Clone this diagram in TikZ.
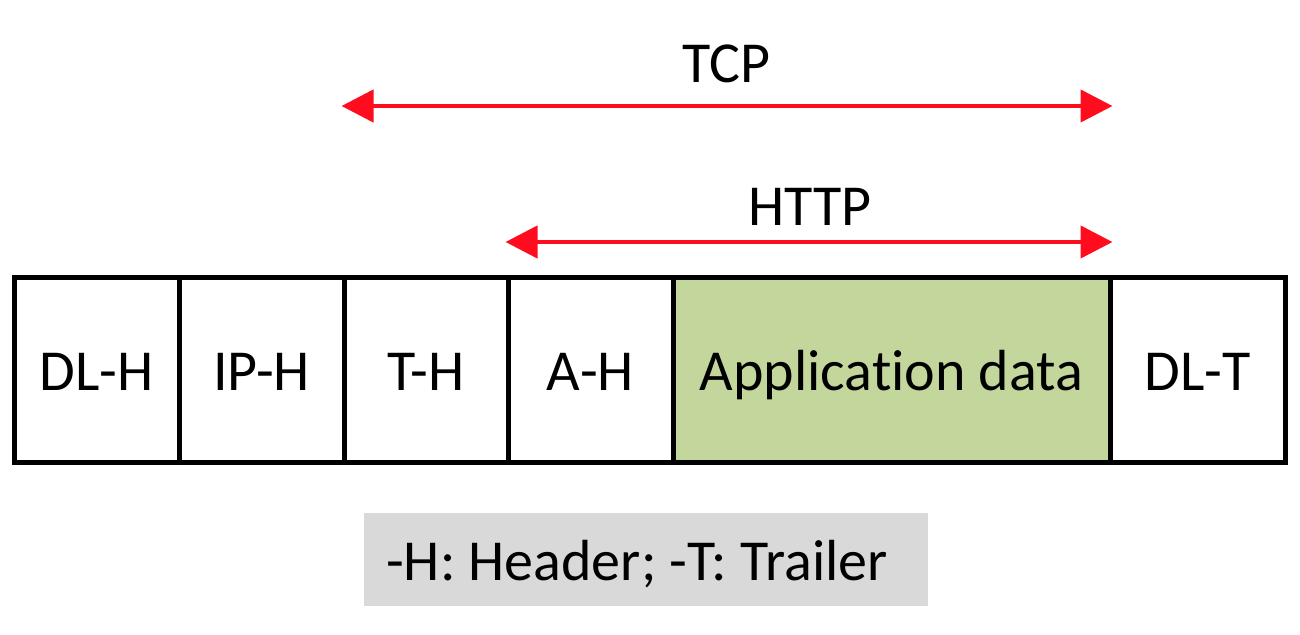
\documentclass[tikz,border=0pt]{standalone}
\usepackage{fontspec}
\setmainfont{Carlito}[Ligatures={NoCommon,NoContextual}]
\usetikzlibrary{arrows.meta}
\definecolor{arrred}{HTML}{FF0D1F}
\definecolor{appgreen}{HTML}{C3D69B}
\definecolor{leggray}{HTML}{D9D9D9}
\begin{document}
\begin{tikzpicture}[x=1pt,y=-1pt,
  cell/.style={draw=black, line width=5pt, minimum height=185pt, inner sep=0pt, fill=white, anchor=center},
  arr/.style={draw=arrred, line width=4.5pt, {Triangle[length=32pt,width=32pt]}-{Triangle[length=32pt,width=32pt]}},
  txt/.style={font=\fontsize{58}{60}\selectfont, inner sep=0pt}
]
\useasboundingbox (0,0) rectangle (1300,634);
% cells
\node[cell, minimum width=165pt] (dlh) at (96.5,369.5) {};
\node[cell, minimum width=165pt] (iph) at (261.5,369.5) {};
\node[cell, minimum width=164pt] (th) at (426,369.5) {};
\node[cell, minimum width=165pt] (ah) at (590.5,369.5) {};
\node[cell, minimum width=437pt, fill=appgreen] (app) at (891.5,369.5) {};
\node[cell, minimum width=175pt] (dlt) at (1197.5,369.5) {};
% cell texts
\node[txt, anchor=base] (tdlh) at (96.5,390) {DL-H};
\node[txt, anchor=base] (tiph) at (261.5,390) {IP-H};
\node[txt, anchor=base] (tth) at (426,390) {T-H};
\node[txt, anchor=base] (tah) at (590.5,390) {A-H};
\node[txt, anchor=base] (tapp) at (891.5,390) {Applicat\kern0pt ion data};
\node[txt, anchor=base] (tdlt) at (1197.5,390) {DL-T};
% arrows
\coordinate (tcpL) at (th.west |- 0,106);
\coordinate (tcpR) at (app.east |- 0,106);
\coordinate (httpL) at (ah.west |- 0,242);
\coordinate (httpR) at (app.east |- 0,242);
\draw[arr] (tcpL) -- (tcpR);
\draw[arr] (httpL) -- (httpR);
\node[txt, anchor=base] (tcp) at (726,82) {TCP};
\node[txt, anchor=base] (http) at (810,225) {HTTP};
% legend
\node[fill=leggray, minimum width=564pt, minimum height=93pt, inner sep=0pt] (leg) at (646,559.5) {};
\node[txt, anchor=base west] (legt) at (386,580) {-H: Header; -T: Trailer};
\end{tikzpicture}
\end{document}
